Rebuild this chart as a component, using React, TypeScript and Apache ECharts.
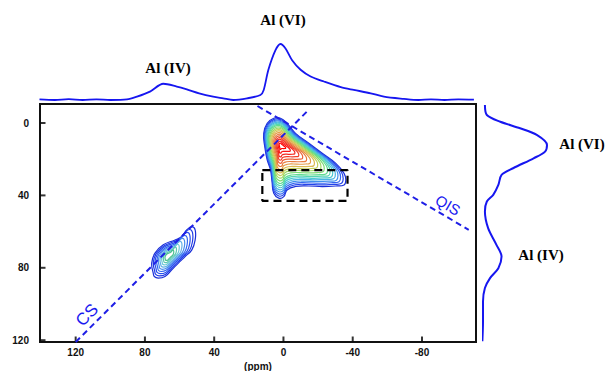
import React, { useEffect, useRef } from "react";
import * as echarts from "echarts";

// axis ticks (ppm)
const xTicks = [120, 80, 40, 0, -40, -80];
const yTicks = [0, 40, 80, 120];

// top projection (F2, ppm / normalised intensity)
const topPpm = [140.9, 132, 124, 116, 108, 100, 90.4, 84.6, 77.1, 69.4, 61.6, 55.8, 48.7, 40.6, 34.8, 29, 21, 13.3, 11.4, 8.7, 4.6, 1.7, -1.2, -5, -9.9, -15.7, -23.4, -33.1, -40.6, -50.4, -58, -69.6, -78, -85.2, -93, -101, -110];
const topInt = [0.01, 0.0, 0.015, 0.0, 0.01, 0.0, 0.01, 0.06, 0.15, 0.29, 0.24, 0.19, 0.12, 0.06, 0.03, 0.0, 0.03, 0.09, 0.18, 0.54, 0.89, 1.0, 0.92, 0.71, 0.54, 0.42, 0.33, 0.23, 0.18, 0.12, 0.06, 0.02, 0.0, 0.01, 0.0, 0.01, 0.005];

// right projection (F1, ppm / normalised intensity)
const rightPpm = [-9.9, -4.4, -0.7, 2.9, 6.6, 12.1, 15.8, 19.5, 25, 28.7, 34.2, 39.7, 43.4, 48.9, 58.1, 67.3, 73.8, 80.2, 85.7, 91.2, 98.6, 109.6, 120.6];
const rightInt = [0.03, 0.06, 0.27, 0.58, 0.84, 1.0, 0.97, 0.79, 0.47, 0.29, 0.24, 0.16, 0.06, 0.03, 0.08, 0.21, 0.29, 0.24, 0.11, 0.03, 0.0, 0.0, -0.01];

// Al(VI) contour: outermost level outline (F2 ppm, F1 ppm), peak centre, relative levels
const alVIOuter = [
  [5.6, -2.6], [9.4, 0.2], [11.4, 5.7], [10.8, 13.1], [9.4, 20.4], [7.5, 25.9], [6.6, 32.4], [5.6, 38.8],
  [2.7, 41.5], [-0.2, 40.7], [-2.1, 37], [-7, 35.1], [-14.7, 34.8], [-22.4, 35.1], [-30.1, 34.8], [-35, 34.2],
  [-36, 31.4], [-35, 27.8], [-30.1, 22.2], [-22.4, 16.7], [-14.7, 11.2], [-7, 5.7], [-2.1, 0.2], [1.7, -2.6],
];
const alVICenter = [1.7, 12.3];
const alVILevels = [1, 0.96, 0.92, 0.88, 0.84, 0.8, 0.76, 0.72, 0.67, 0.62, 0.57, 0.52, 0.46, 0.4, 0.34, 0.28, 0.22, 0.15, 0.08];

// Al(IV) contour
const alIVOuter = [
  [75.2, 82.9], [76.1, 77.4], [74.2, 71.9], [69.4, 67.3], [62.6, 64.6], [58.7, 62.7], [55.8, 59.0], [52.9, 57.2],
  [51.0, 59.0], [51.0, 64.6], [52.9, 70.1], [56.8, 73.8], [60.7, 77.4], [64.5, 81.1], [68.4, 84.8], [72.3, 85.7], [74.6, 84.8],
];
const alIVCenter = [66.5, 73.5];
const alIVLevels = [1, 0.9, 0.8, 0.7, 0.6, 0.5, 0.4, 0.3, 0.2];

// guide lines
const csLine = [[120, 121], [-14.5, -7.2]];
const qisLine = [[15, -9.4], [-107, 59]];
const boxX = [12.2, -37];
const boxY = [26, 43];

const X_MIN = -111.2, X_MAX = 140.6, Y_MIN = -10.5, Y_MAX = 121;

const ramp = [
  "#1a2fd8", "#2444ea", "#3366f0", "#4090ee", "#48b4e4", "#4ccad0", "#54d6b0", "#60dc90", "#7cdc74",
  "#a0d864", "#c4d05a", "#dcba52", "#e49c48", "#e87c40", "#ec5e36", "#f0402c", "#f42820", "#f81414", "#ff0000",
];
const rampIV = ["#1a2fd8", "#1f3ae6", "#2850ee", "#3468f0", "#4a8eec", "#62b0e6", "#6ccad8", "#5cc8b0", "#4cc090"];

export default function App() {
  const ref = useRef<HTMLDivElement>(null);
  useEffect(() => {
    if (!ref.current) return;
    const chart = echarts.init(ref.current, null, { renderer: "svg" });

    const contours: { outer: number[][]; c: number[]; f: number; color: string }[] = [];
    alIVLevels.forEach((f, i) => contours.push({ outer: alIVOuter, c: alIVCenter, f, color: rampIV[i] }));
    alVILevels.forEach((f, i) => contours.push({ outer: alVIOuter, c: alVICenter, f, color: ramp[i] }));

    const boxData = [
      [boxX[0], boxY[0]], [boxX[1], boxY[0]], [boxX[1], boxY[1]], [boxX[0], boxY[1]], [boxX[0], boxY[0]],
    ];

    const labelFont = { fontFamily: "Liberation Serif", fontWeight: "bold", fontSize: 15, fill: "#000" } as any;
    const axisLineStyle = { show: true, onZero: false, lineStyle: { color: "#111", width: 2 } };

    chart.setOption({
      animation: false,
      backgroundColor: "#fff",
      grid: [
        { left: 40, right: 137, top: 104, bottom: 29, show: true, borderColor: "#111", borderWidth: 2, backgroundColor: "transparent", outerBoundsMode: "none", containLabel: false },
        { left: 40, right: 137, top: 44, height: 56, outerBoundsMode: "none" },
        { left: 483, right: 66, top: 104, bottom: 29, outerBoundsMode: "none" },
      ],
      xAxis: [
        {
          type: "value", gridIndex: 0, min: X_MIN, max: X_MAX, inverse: true, position: "bottom",
          axisLine: axisLineStyle, splitLine: { show: false }, axisTick: { show: false },
          axisLabel: { customValues: xTicks, margin: 5, color: "#111", fontWeight: "bold", fontSize: 10, fontFamily: "Liberation Sans" },
          name: "(ppm)", nameLocation: "middle", nameGap: 17,
          nameTextStyle: { color: "#111", fontWeight: "bold", fontSize: 10, fontFamily: "Liberation Sans" },
        },
        { type: "value", gridIndex: 1, min: X_MIN, max: X_MAX, inverse: true, show: false },
        { type: "value", gridIndex: 2, min: 0, max: 1, show: false },
      ],
      yAxis: [
        {
          type: "value", gridIndex: 0, min: Y_MIN, max: Y_MAX, inverse: true, position: "left",
          axisLine: axisLineStyle, splitLine: { show: false }, axisTick: { show: false },
          axisLabel: { customValues: yTicks, margin: 11, color: "#111", fontWeight: "bold", fontSize: 10, fontFamily: "Liberation Sans" },
        },
        { type: "value", gridIndex: 1, min: 0, max: 1, show: false },
        { type: "value", gridIndex: 2, min: Y_MIN, max: Y_MAX, inverse: true, show: false },
      ],
      series: [
        {
          type: "line", xAxisIndex: 1, yAxisIndex: 1, symbol: "none", smooth: 0.3,
          data: topPpm.map((p, i) => [p, topInt[i]]),
          lineStyle: { color: "#1616f0", width: 1.8 },
        },
        {
          type: "line", xAxisIndex: 2, yAxisIndex: 2, symbol: "none", smooth: 0.3,
          data: rightPpm.map((p, i) => [rightInt[i], p]),
          lineStyle: { color: "#1616f0", width: 2 },
        },
        {
          type: "custom", xAxisIndex: 0, yAxisIndex: 0, clip: true,
          data: contours.map((c) => [c.c[0], c.c[1]]),
          renderItem: (params: any, api: any) => {
            const ct = contours[params.dataIndex];
            const pts = ct.outer.map((p) =>
              api.coord([ct.c[0] + (p[0] - ct.c[0]) * ct.f, ct.c[1] + (p[1] - ct.c[1]) * ct.f])
            );
            return {
              type: "polygon",
              shape: { points: pts, smooth: 0.45 },
              style: { fill: "none", stroke: ct.color, lineWidth: 1.2 },
            };
          },
        },
        {
          type: "line", xAxisIndex: 0, yAxisIndex: 0, symbol: "none",
          data: csLine, lineStyle: { color: "#1f1fe6", width: 2, type: [6, 4] },
        },
        {
          type: "line", xAxisIndex: 0, yAxisIndex: 0, symbol: "none",
          data: qisLine, lineStyle: { color: "#1f1fe6", width: 2, type: [6, 4] },
        },
        {
          type: "line", xAxisIndex: 0, yAxisIndex: 0, symbol: "none",
          data: boxData, lineStyle: { color: "#000", width: 2.2, type: [8, 5] },
        },
        // inward tick marks
        {
          type: "scatter", xAxisIndex: 0, yAxisIndex: 0, clip: false, silent: true,
          data: xTicks.map((t) => [t, Y_MAX]),
          symbol: "rect", symbolSize: [2, 5], symbolOffset: [0, -3],
          itemStyle: { color: "#000" },
        },
        {
          type: "scatter", xAxisIndex: 0, yAxisIndex: 0, clip: false, silent: true,
          data: yTicks.map((t) => [X_MAX, t]),
          symbol: "rect", symbolSize: [5, 2], symbolOffset: [3, 0],
          itemStyle: { color: "#000" },
        },
      ],
      graphic: [
        { type: "text", x: 283, y: 20, style: { ...labelFont, text: "Al (VI)", align: "center", verticalAlign: "middle" } },
        { type: "text", x: 168, y: 68, style: { ...labelFont, text: "Al (IV)", align: "center", verticalAlign: "middle" } },
        { type: "text", x: 582, y: 144, style: { ...labelFont, text: "Al (VI)", align: "center", verticalAlign: "middle" } },
        { type: "text", x: 541, y: 255, style: { ...labelFont, text: "Al (IV)", align: "center", verticalAlign: "middle" } },
        {
          type: "text", x: 87, y: 315, rotation: Math.PI / 4,
          style: { text: "CS", fontFamily: "Liberation Sans", fontSize: 17, fill: "#1a1af0", align: "center", verticalAlign: "middle" },
        },
        {
          type: "text", x: 448, y: 205, rotation: -0.53,
          style: { text: "QIS", fontFamily: "Liberation Sans", fontSize: 15, fill: "#1a1af0", align: "center", verticalAlign: "middle" },
        },
      ],
    });
    return () => chart.dispose();
  }, []);
  return <div ref={ref} style={{ width: 613, height: 371, position: "absolute", left: 0, top: 0 }} />;
}
